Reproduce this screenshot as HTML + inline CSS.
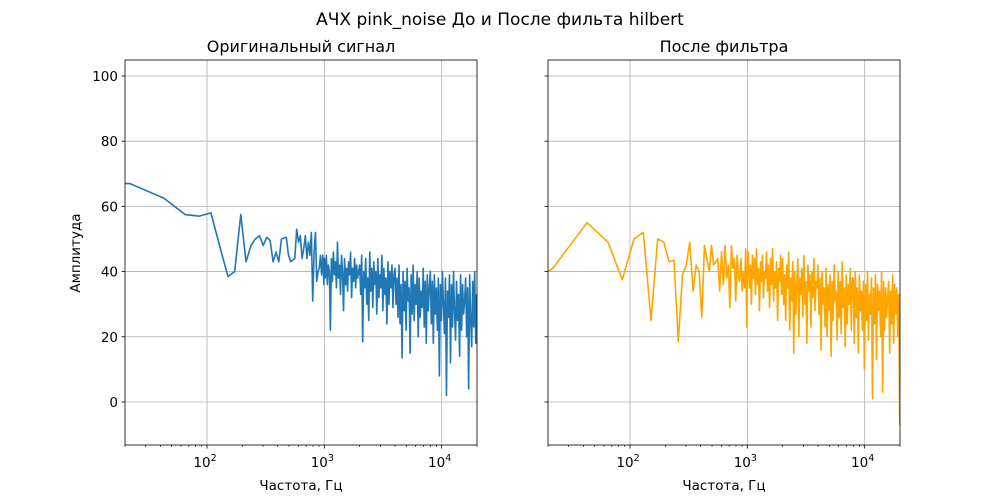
<!DOCTYPE html>
<html><head><meta charset="utf-8"><style>
html,body{margin:0;padding:0;background:#fff;}
svg{display:block;font-family:"DejaVu Sans","Liberation Sans",sans-serif;}
</style></head><body>
<svg id="chart" width="1000" height="500" viewBox="0 0 1000 500"></svg>
<script>
const freqLow = [20,22,43,65,86,108,130,151,172,194,215,237,258,280,301,323,345,366,388,409,431,474,495,517,560,581,603,624,646,667,689,710,732,753,775,796,818,840,861,883,904,926,947,969,990];
const ampLowLeft = [67,67,62.5,57.5,57,58,47,38.5,40,57.5,43,48,50,51,48,50.5,49.5,43,46,43,50,50.5,45,43,44,53,49,51,44,47,51,44,49,45,52,31,46,52,37,40,41,45,39,45,36];
const ampLowRight = [40,41,55,49,37.5,50,52,25,50,49,43,43.5,18.5,39,42,49,34,42,40,26,48,40,48,42,44,34,46,36,48,38,42,29,48,41,44,31,45,38,37,44,34,40,35,47,23];
const freqHigh = [1000,1020,1040,1061,1082,1104,1126,1149,1172,1195,1219,1243,1268,1294,1319,1346,1373,1400,1428,1457,1486,1516,1546,1577,1608,1641,1673,1707,1741,1776,1811,1848,1885,1922,1961,
2000,2040,2080,2122,2164,2208,2252,2298,2344,2390,2438,2486,2536,2588,2638,2692,2746,2800,2856,2914,2972,3032,3092,3154,3216,3282,3346,3414,3482,3552,3622,3696,3770,3844,3922,
4000,4080,4160,4244,4328,4416,4504,4596,4688,4780,4876,4972,5072,5176,5276,5384,5492,5600,5712,5828,5944,6064,6184,6308,6432,6564,6692,6828,6964,7104,7244,7392,7540,7688,7844,
8000,8160,8320,8488,8656,8832,9008,9192,9376,9560,9752,9944,10144,10352,10552,10768,10984,11200,11424,11656,11888,12128,12368,12616,12864,13128,13384,13656,13928,14208,14488,14784,15080,15376,15688,
16000,16320,16640,16976,17312,17664,18016,18384,18752,19120,19504,19888];
const ampHighLeft = [44,38,45,36,42,40,22,44,37,46,39,43,35,49,38,42,33,45,40,28,44,36,41,34,43,39,46,32,41,37,44,35,42,38,40,
42,33,45,18.5,40,35,44,30,38,25,46,34,41,29,43,36,40,27,44,32,39,35,45,28,41,33,38,24,43,30,40,35,42,29,39,
41,30,38,26,42,24,36,13.5,40,28,37,22,41,31,35,15,39,27,42,25,36,30,40,20,38,26,34,29,41,23,37,18,39,28,35,
40,24,37,18,39,27,35,22,38,8,36,25,40,30,21,38,2,34,26,39,12,36,23,40,28,19,37,25,33,14,39,22,36,27,31,
38,20,35,4,39,25,17,37,23,40,18,33];
const ampHighRight = [40,46,35,42,30,45,38,44,33,47,36,41,28,43,37,45,32,40,38,46,34,42,29,44,36,47,31,40,35,43,25,41,37,45,33,
44,30,39,25,42,35,46,22,38,31,43,15,40,27,36,44,20,38,33,41,26,45,30,37,18,42,34,39,23,40,32,44,28,37,35,
42,27,38,16,40,30,35,23,41,20,36,28,39,14,37,25,42,31,34,19,40,26,37,21,43,29,35,17,39,24,36,30,41,22,38,
38,18,40,26,35,15,39,28,34,22,37,10,36,25,40,19,33,27,38,1,35,24,39,13,36,28,34,20,40,3,37,22,35,26,32,
37,15,34,24,39,18,36,27,35,20,33,-7];
const yTicks = [0,20,40,60,80,100];
const xTickExps = [2,3,4];
const panels = [
  {x0:125,x1:477,title:"Оригинальный сигнал",amps:ampLowLeft.concat(ampHighLeft),color:"#1f77b4",ylabels:true,name:"left"},
  {x0:548,x1:900,title:"После фильтра",amps:ampLowRight.concat(ampHighRight),color:"#ffa500",ylabels:false,name:"right"}
];
const freqs = freqLow.concat(freqHigh);
const NS="http://www.w3.org/2000/svg";
const svg=document.getElementById('chart');
function mk(tag,attrs,parent,text){const e=document.createElementNS(NS,tag);for(const k in attrs)e.setAttribute(k,attrs[k]);if(text!==undefined)e.textContent=text;(parent||svg).appendChild(e);return e;}
const yTop=60,yBot=445,yMin=-13.2,yMax=104.9,xMinL=Math.log10(20),xMaxL=Math.log10(20000);
function yS(v){return yBot-(v-yMin)/(yMax-yMin)*(yBot-yTop);}
let t=mk('text',{x:500,y:25,'text-anchor':'middle','font-size':17});t.textContent="АЧХ pink_noise До и После фильта hilbert";


panels.forEach(p=>{
  const xS=f=>p.x0+(Math.log10(f)-xMinL)/(xMaxL-xMinL)*(p.x1-p.x0);
  const g=mk('g',{});
  
  
  // grid
  yTicks.forEach(v=>{const y=yS(v);
    mk('line',{x1:p.x0,x2:p.x1,y1:y,y2:y,stroke:'#b0b0b0','stroke-width':0.8},g);
    mk('line',{x1:p.x0-3.5,x2:p.x0,y1:y,y2:y,stroke:'#000','stroke-width':0.8},g);
    if(p.ylabels){const l=mk('text',{x:p.x0-7,y:y+5,'text-anchor':'end','font-size':13.5},g,String(v));
      
      }
  });
  xTickExps.forEach(e=>{const x=xS(Math.pow(10,e));
    mk('line',{x1:x,x2:x,y1:yTop,y2:yBot,stroke:'#b0b0b0','stroke-width':0.8},g);
    mk('line',{x1:x,x2:x,y1:yBot,y2:yBot+3.5,stroke:'#000','stroke-width':0.8},g);
    const l=mk('text',{x:x-2,y:yBot+22,'text-anchor':'middle','font-size':13.5},g);
    
    
    mk('tspan',{},l,'10');mk('tspan',{dy:-6,'font-size':9.5},l,String(e));
  });
  for(let e=1;e<=4;e++)for(let m=2;m<=9;m++){const f=m*Math.pow(10,e);if(f<20||f>20000)continue;const x=xS(f);
    mk('line',{x1:x,x2:x,y1:yBot,y2:yBot+2,stroke:'#000','stroke-width':0.6},g);}
  const cp=mk('clipPath',{id:'clip-'+p.name},g);mk('rect',{x:p.x0,y:yTop,width:p.x1-p.x0,height:yBot-yTop},cp);
  const d=freqs.map((f,i)=>(i?'L':'M')+xS(f).toFixed(2)+' '+yS(p.amps[i]).toFixed(2)).join(' ');
  const path=mk('path',{d:d,fill:'none',stroke:p.color,'stroke-width':1.6,'stroke-linejoin':'round','clip-path':'url(#clip-'+p.name+')'},g);
  
  
  mk('rect',{x:p.x0,y:yTop,width:p.x1-p.x0,height:yBot-yTop,fill:'none',stroke:'#000','stroke-width':0.8},g);
  const tt=mk('text',{x:(p.x0+p.x1)/2,y:yTop-8,'text-anchor':'middle','font-size':16},g,p.title);
  
  
  const xl=mk('text',{x:(p.x0+p.x1)/2,y:490,'text-anchor':'middle','font-size':13.5},g,'Частота, Гц');
  
  
  if(p.ylabels){const yl=mk('text',{x:80,y:253,'text-anchor':'middle','font-size':13.5,transform:'rotate(-90 80 253)'},g,'Амплитуда');
    
    }
});
</script>
</body></html>
